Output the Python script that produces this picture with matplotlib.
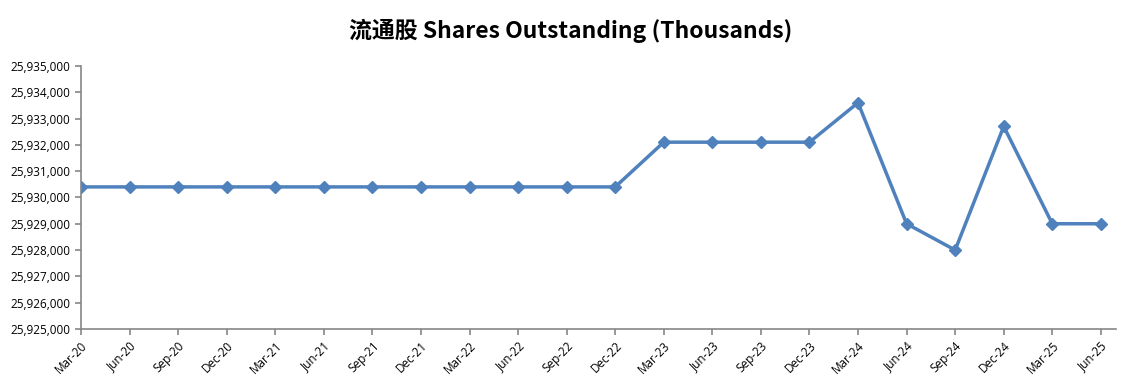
import matplotlib
matplotlib.use("Agg")
import matplotlib.pyplot as plt
from matplotlib.ticker import FuncFormatter, MultipleLocator

# data
quarters = ["Mar-20", "Jun-20", "Sep-20", "Dec-20", "Mar-21", "Jun-21", "Sep-21", "Dec-21",
            "Mar-22", "Jun-22", "Sep-22", "Dec-22", "Mar-23", "Jun-23", "Sep-23", "Dec-23",
            "Mar-24", "Jun-24", "Sep-24", "Dec-24", "Mar-25", "Jun-25"]
shares = [25930400, 25930400, 25930400, 25930400, 25930400, 25930400, 25930400, 25930400,
          25930400, 25930400, 25930400, 25930400, 25932100, 25932100, 25932100, 25932100,
          25933600, 25929000, 25928000, 25932700, 25929000, 25929000]

fig = plt.figure(figsize=(11.41, 3.83), dpi=100)
ax = fig.add_axes([0.071, 0.141, 0.907, 0.687])

x = list(range(len(quarters)))
ax.plot(x, shares, color="#4F81BD", lw=2.5, marker="D", ms=6, mec="#4F81BD", mfc="#4F81BD")

ax.set_xlim(0, len(quarters) - 1 + 0.31)
ax.set_ylim(25925000, 25935000)
ax.yaxis.set_major_locator(MultipleLocator(1000))
ax.yaxis.set_major_formatter(FuncFormatter(lambda v, p: f"{v:,.0f}"))
ax.set_xticks(x)
ax.set_xticklabels(quarters, rotation=45, ha="right", rotation_mode="anchor")

for side in ["top", "right"]:
    ax.spines[side].set_visible(False)
for side in ["left", "bottom"]:
    ax.spines[side].set_color("#868686")
    ax.spines[side].set_linewidth(1.2)
ax.tick_params(axis="both", colors="#868686", length=4, width=1.2, direction="out")
for lbl in ax.get_xticklabels() + ax.get_yticklabels():
    lbl.set_color("black")
    lbl.set_fontsize(8.5)
    lbl.set_family("Open Sans")

fig.text(0.5, 0.92, "流通股 Shares Outstanding (Thousands)", ha="center", va="center",
         fontsize=16.5, fontweight="bold", family=["Noto Sans CJK SC", "DejaVu Sans"])

fig.savefig("out.png", dpi=100, facecolor="white")
